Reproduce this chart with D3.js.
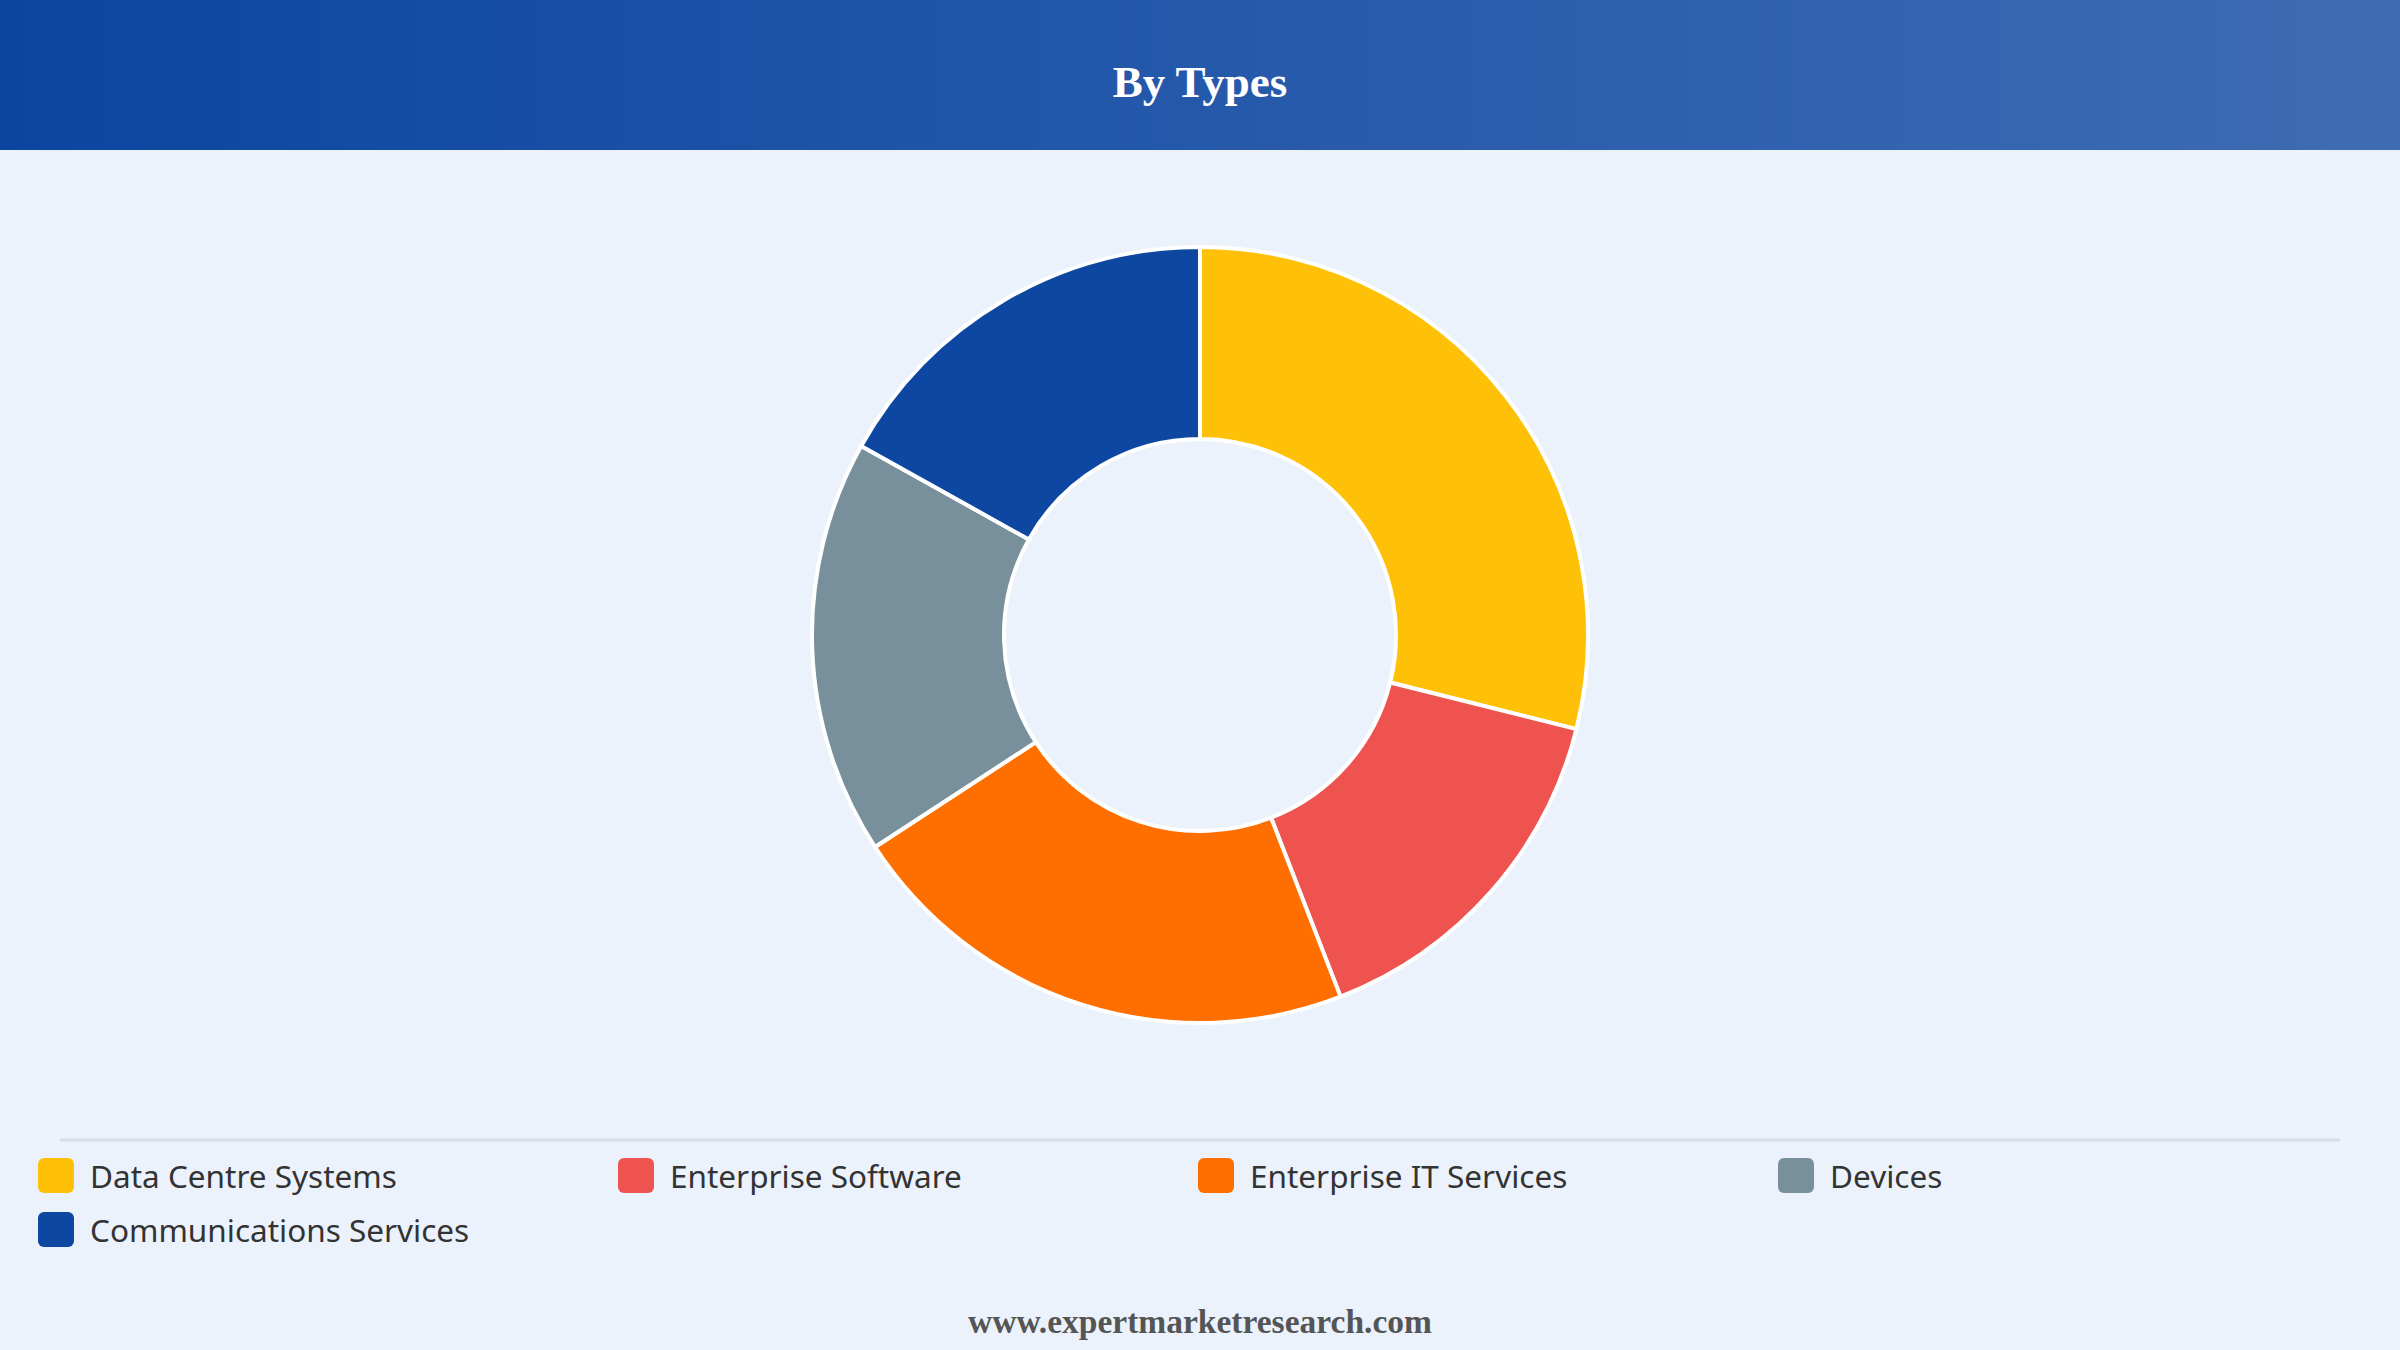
<!DOCTYPE html>
<html>
<head>
<meta charset="utf-8">
<script src="https://cdn.jsdelivr.net/npm/d3@7"></script>
<style>
  html, body { margin: 0; padding: 0; background: #ebf2fc; }
  svg { display: block; }
</style>
</head>
<body>
<svg id="chart"></svg>
<script>
var categories = ["Data Centre Systems", "Enterprise Software", "Enterprise IT Services", "Devices", "Communications Services"]
var shares = [28.9, 15.2, 21.7, 17.3, 16.9]
var colours = ["#ffc107", "#ef5350", "#ff6f00", "#78909c", "#0d47a1"]

var titleText = "By Types"
var footerText = "www.expertmarketresearch.com"

var drawHeader = function(svg, screen)
{
    var defs = svg.append("defs")
    var grad = defs.append("linearGradient")
        .attr("id", "headGrad")
        .attr("x1", "0%").attr("x2", "100%")
        .attr("y1", "0%").attr("y2", "0%")
    grad.append("stop").attr("offset", "0%").attr("stop-color", "#0c45a0")
    grad.append("stop").attr("offset", "100%").attr("stop-color", "#3e6cb4")

    svg.append("rect")
        .attr("width", screen.width)
        .attr("height", screen.height)
        .attr("fill", "#ebf2fc")

    svg.append("rect")
        .attr("width", screen.width)
        .attr("height", 150)
        .attr("fill", "url(#headGrad)")

    svg.append("text")
        .attr("x", screen.width / 2)
        .attr("y", 97)
        .attr("text-anchor", "middle")
        .attr("font-family", "'Liberation Serif', 'Times New Roman', serif")
        .attr("font-weight", "bold")
        .attr("font-size", 45)
        .attr("fill", "#ffffff")
        .text(titleText)
}

var drawDonut = function(svg)
{
    var center = {x: 1200, y: 635}
    var outer = 388, inner = 196

    var pie = d3.pie().sort(null).value(function(d) { return d })
    var arc = d3.arc().innerRadius(inner).outerRadius(outer)

    svg.append("g")
        .attr("transform", "translate(" + center.x + "," + center.y + ")")
        .selectAll("path")
        .data(pie(shares))
        .enter()
        .append("path")
        .attr("d", arc)
        .attr("fill", function(d, i) { return colours[i] })
        .attr("stroke", "#ffffff")
        .attr("stroke-width", 4)
        .attr("stroke-linejoin", "round")
}

var drawLegend = function(svg, screen)
{
    svg.append("line")
        .attr("x1", 60).attr("x2", 2340)
        .attr("y1", 1140).attr("y2", 1140)
        .attr("stroke", "#dadde2")
        .attr("stroke-width", 3)

    var colX = d3.scaleLinear().domain([0, 4]).range([38, 38 + 4 * 580])

    var items = svg.append("g")
        .selectAll("g")
        .data(categories)
        .enter()
        .append("g")
        .attr("transform", function(d, i) {
            return "translate(" + colX(i % 4) + "," + (1158 + Math.floor(i / 4) * 54) + ")"
        })

    items.append("rect")
        .attr("width", 36).attr("height", 35)
        .attr("rx", 6).attr("ry", 6)
        .attr("fill", function(d, i) { return colours[i] })

    items.append("text")
        .attr("x", 52)
        .attr("y", 30)
        .attr("font-family", "'Noto Sans', 'Open Sans', sans-serif")
        .attr("font-size", 31.5)
        .attr("fill", "#333333")
        .text(function(d) { return d })
}

var drawFooter = function(svg, screen)
{
    svg.append("text")
        .attr("x", screen.width / 2)
        .attr("y", 1333)
        .attr("text-anchor", "middle")
        .attr("font-family", "'Liberation Serif', 'Times New Roman', serif")
        .attr("font-weight", "bold")
        .attr("font-size", 33.5)
        .attr("fill", "#555555")
        .text(footerText)
}

var screen = {width: 2400, height: 1350}
var svg = d3.select("#chart")
    .attr("width", screen.width)
    .attr("height", screen.height)

drawHeader(svg, screen)
drawDonut(svg)
drawLegend(svg, screen)
drawFooter(svg, screen)
</script>
</body>
</html>
